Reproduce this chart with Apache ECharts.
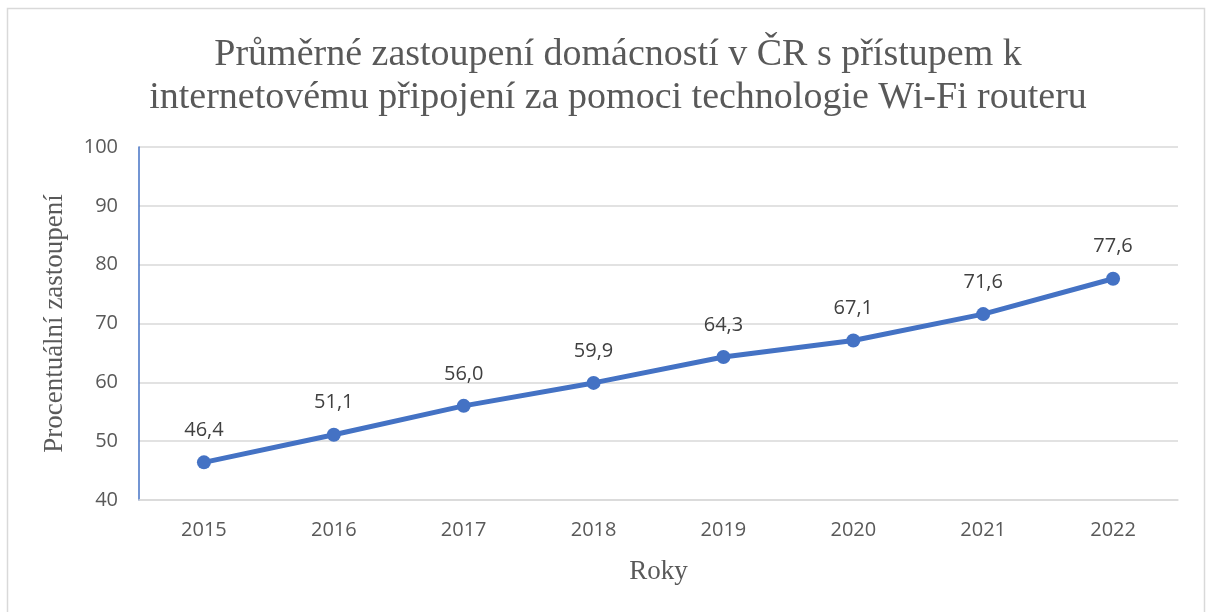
<!DOCTYPE html>
<html>
<head>
<meta charset="utf-8">
<script src="https://cdn.jsdelivr.net/npm/echarts@6/dist/echarts.min.js"></script>
<style>
  html, body { margin: 0; padding: 0; background: #fff; }
  #chart { width: 1206px; height: 612px; }
</style>
</head>
<body>
<div id="chart"></div>
<script>
// 数据
var years = ['2015', '2016', '2017', '2018', '2019', '2020', '2021', '2022'];
var shares = [46.4, 51.1, 56.0, 59.9, 64.3, 67.1, 71.6, 77.6];

(function () {
  var myChart = echarts.init(document.getElementById('chart'));
  var textGrey = '#595959';

  var option = {
    animation: false,
    // 外框
    graphic: [{
      type: 'rect',
      silent: true,
      shape: { x: 7.5, y: 8.5, width: 1197, height: 640 },
      style: { fill: 'none', stroke: '#d9d9d9', lineWidth: 1.5 }
    }],
    title: {
      text: 'Průměrné zastoupení domácností v ČR s přístupem k\ninternetovému připojení za pomoci technologie Wi-Fi routeru',
      left: 613,
      textAlign: 'center',
      top: 29,
      textStyle: {
        fontFamily: 'Liberation Serif',
        fontWeight: 'normal',
        fontSize: 38,
        lineHeight: 43,
        color: textGrey
      }
    },
    grid: {
      left: 139,
      right: 28,
      top: 147,
      bottom: 112
    },
    xAxis: {
      type: 'category',
      data: years,
      boundaryGap: true,
      name: 'Roky',
      nameLocation: 'middle',
      nameGap: 58,
      nameTextStyle: {
        fontFamily: 'Liberation Serif',
        fontSize: 27,
        color: textGrey
      },
      axisLine: { lineStyle: { color: '#d9d9d9', width: 1.5 } },
      axisTick: { show: false },
      axisLabel: {
        margin: 20,
        fontFamily: 'Open Sans',
        fontSize: 20,
        color: textGrey
      }
    },
    yAxis: {
      type: 'value',
      min: 40,
      max: 100,
      interval: 10,
      name: 'Procentuální zastoupení',
      nameLocation: 'middle',
      nameGap: 71,
      nameTextStyle: {
        fontFamily: 'Liberation Serif',
        fontSize: 27,
        color: textGrey
      },
      axisLine: { show: true, lineStyle: { color: '#4472c4', width: 1.5 } },
      axisTick: { show: false },
      axisLabel: {
        margin: 21,
        fontFamily: 'Open Sans',
        fontSize: 20,
        color: textGrey
      },
      splitLine: { lineStyle: { color: '#d9d9d9', width: 1.5 } }
    },
    series: [{
      type: 'line',
      data: shares,
      symbol: 'circle',
      symbolSize: 14,
      lineStyle: { color: '#4472c4', width: 5 },
      itemStyle: { color: '#4472c4' },
      label: {
        show: true,
        position: 'top',
        distance: 15,
        fontFamily: 'Open Sans',
        fontSize: 20,
        color: '#404040',
        formatter: function (p) {
          return p.value.toFixed(1).replace('.', ',');
        }
      }
    }]
  };

  myChart.setOption(option);

  window.addEventListener('resize', function () {
    myChart.resize();
  });
})();
</script>
</body>
</html>
